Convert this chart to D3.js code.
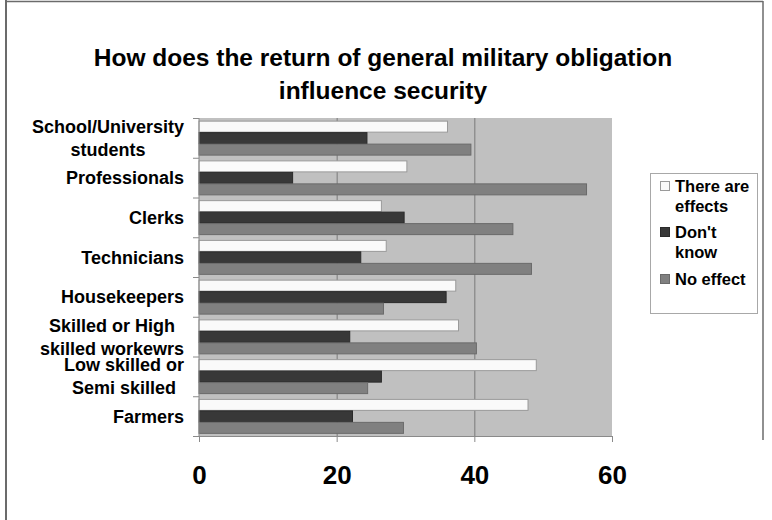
<!DOCTYPE html>
<html>
<head>
<meta charset="utf-8">
<script src="https://cdn.jsdelivr.net/npm/d3@7"></script>
<style>
  html, body { margin: 0; padding: 0; background: #fff; }
  svg { display: block; font-family: "Liberation Sans", Arial, sans-serif; }
</style>
</head>
<body>
<svg id="chart" width="772" height="520"></svg>
<script>
// Occupational groups (top to bottom), each label split into its display lines
const categories = [
  ["School/University", "students"],
  ["Professionals"],
  ["Clerks"],
  ["Technicians"],
  ["Housekeepers"],
  ["Skilled or High", "skilled workewrs"],
  ["Low skilled or", "Semi skilled"],
  ["Farmers"]
];
const seriesNames = ["There are effects", "Don't know", "No effect"];
const thereAreEffects = [36.1, 30.2, 26.5, 27.2, 37.3, 37.7, 49.0, 47.8];
const dontKnow        = [24.4, 13.6, 29.8, 23.5, 35.9, 21.9, 26.5, 22.3];
const noEffect        = [39.5, 56.3, 45.6, 48.3, 26.8, 40.3, 24.5, 29.7];
const xTicks = [0, 20, 40, 60];

const series = [thereAreEffects, dontKnow, noEffect];
const fills = ["#fafafa", "#383838", "#808080"];
const strokes = ["#9a9a9a", "#2a2a2a", "#6a6a6a"];

const svg = d3.select("#chart");

// Outer frame
svg.append("line").attr("x1", 6).attr("x2", 6).attr("y1", 0).attr("y2", 520)
  .attr("stroke", "#6b6b6b").attr("stroke-width", 2);
svg.append("line").attr("x1", 6).attr("x2", 763).attr("y1", 1.5).attr("y2", 1.5)
  .attr("stroke", "#6b6b6b").attr("stroke-width", 1.5);
svg.append("line").attr("x1", 763).attr("x2", 763).attr("y1", 1).attr("y2", 440)
  .attr("stroke", "#6b6b6b").attr("stroke-width", 1.5);

// Title
const title = svg.append("text").attr("text-anchor", "middle")
  .attr("font-weight", "bold").attr("font-size", 24.5).attr("fill", "#000");
title.append("tspan").attr("x", 383).attr("y", 66).text("How does the return of general military obligation");
title.append("tspan").attr("x", 383).attr("y", 99).text("influence security");

// Plot area
const plot = { left: 199, right: 612, top: 118, bottom: 436 };
const x = d3.scaleLinear().domain([0, 60]).range([plot.left, plot.right]);
const y = d3.scaleBand().domain(d3.range(categories.length))
  .range([plot.top, plot.bottom]).paddingInner(0).paddingOuter(0);
const inner = d3.scaleBand().domain(d3.range(series.length))
  .range([0, y.bandwidth()]).paddingOuter(0.23).paddingInner(0);

svg.append("rect")
  .attr("x", plot.left).attr("y", plot.top)
  .attr("width", plot.right - plot.left).attr("height", plot.bottom - plot.top)
  .attr("fill", "#c0c0c0");

// Vertical gridlines
svg.append("g").selectAll("line")
  .data(xTicks.filter(d => d > 0 && d < 60))
  .join("line")
  .attr("x1", d => x(d) + 0.5).attr("x2", d => x(d) + 0.5)
  .attr("y1", plot.top).attr("y2", plot.bottom)
  .attr("stroke", "#7a7a7a").attr("stroke-width", 1);

// Bars
const groups = svg.append("g").selectAll("g")
  .data(categories.map((c, i) => i))
  .join("g")
  .attr("transform", i => `translate(0,${y(i)})`);

groups.selectAll("rect")
  .data(i => series.map((s, k) => ({ k, v: s[i] })))
  .join("rect")
  .attr("x", x(0))
  .attr("y", d => inner(d.k) + 0.5)
  .attr("width", d => x(d.v) - x(0))
  .attr("height", inner.bandwidth() - 0.5)
  .attr("fill", d => fills[d.k])
  .attr("stroke", d => strokes[d.k])
  .attr("stroke-width", 1);

// Bottom axis
const xAxis = d3.axisBottom(x).tickValues(xTicks).tickSize(6).tickPadding(24)
  .tickFormat(d3.format("d"));
const gx = svg.append("g").attr("transform", `translate(0,${plot.bottom})`).call(xAxis);
gx.select(".domain").attr("stroke", "#8a8a8a");
gx.selectAll(".tick line").attr("stroke", "#8a8a8a");
gx.selectAll(".tick text").attr("font-size", 26).attr("font-weight", "bold")
  .attr("fill", "#000").attr("font-family", "Liberation Sans, Arial, sans-serif");

// Left axis: tick marks on category boundaries
const gy = svg.append("g");
gy.append("line").attr("x1", plot.left).attr("x2", plot.left)
  .attr("y1", plot.top).attr("y2", plot.bottom).attr("stroke", "#8a8a8a");
gy.selectAll(".bound").data(d3.range(categories.length + 1)).join("line")
  .attr("class", "bound")
  .attr("x1", plot.left - 6).attr("x2", plot.left)
  .attr("y1", i => (i < categories.length ? y(i) : plot.bottom) + 0.5)
  .attr("y2", i => (i < categories.length ? y(i) : plot.bottom) + 0.5)
  .attr("stroke", "#8a8a8a");

// Category labels: multi-line labels are centred as a block, right-aligned to the axis
const lineH = 23;
const labelG = svg.append("g").attr("font-size", 18).attr("font-weight", "bold").attr("fill", "#000");
categories.forEach((lines, i) => {
  const cy = y(i) + y.bandwidth() / 2;
  const t = labelG.append("text").attr("text-anchor", "middle");
  lines.forEach((ln, j) => {
    t.append("tspan").attr("y", cy + (j - (lines.length - 1) / 2) * lineH + 6.5).text(ln);
  });
  // measure the widest line and centre the block so that its right edge sits at x=184
  const w = d3.max(t.selectAll("tspan").nodes(), n => n.getComputedTextLength());
  t.selectAll("tspan").attr("x", 184 - w / 2);
});

// Legend
const legend = svg.append("g");
legend.append("rect").attr("x", 650.5).attr("y", 173.5).attr("width", 107).attr("height", 140)
  .attr("fill", "#fff").attr("stroke", "#a8a8a8");
const legendItems = [
  { k: 0, lines: ["There are", "effects"], y: 192 },
  { k: 1, lines: ["Don't", "know"], y: 238 },
  { k: 2, lines: ["No effect"], y: 285 }
];
legendItems.forEach(it => {
  legend.append("rect").attr("x", 660.5).attr("y", it.y - 10.5).attr("width", 9).attr("height", 9)
    .attr("fill", fills[it.k]).attr("stroke", strokes[it.k]);
  const t = legend.append("text").attr("font-size", 16.5).attr("font-weight", "bold").attr("fill", "#000");
  it.lines.forEach((ln, j) => t.append("tspan").attr("x", 675).attr("y", it.y + j * 20).text(ln));
});
</script>
</body>
</html>
